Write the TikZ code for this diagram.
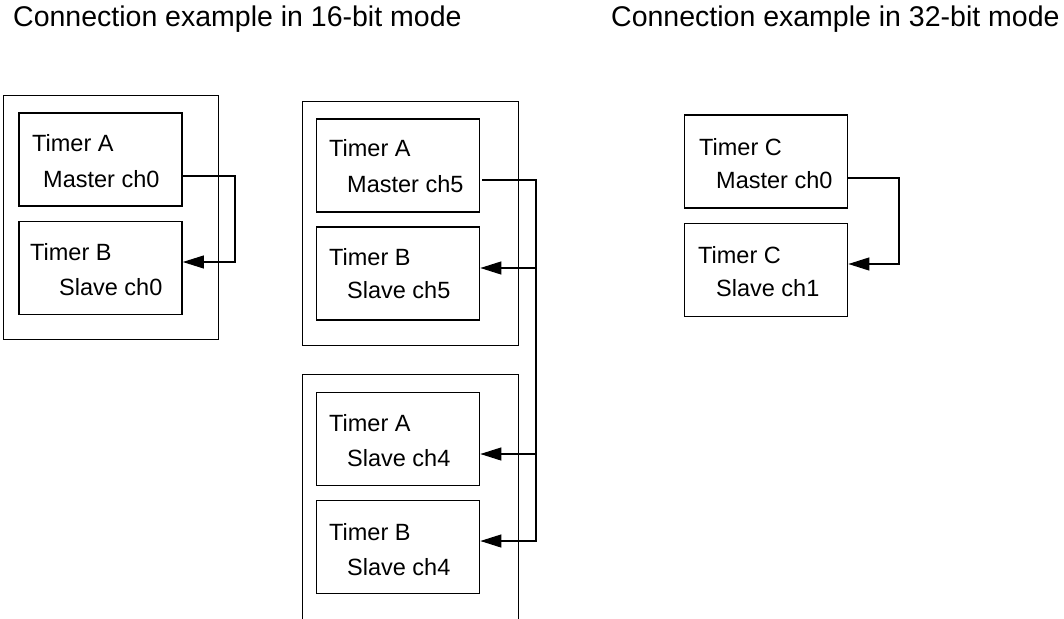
\documentclass[tikz,border=0pt]{standalone}
\usepackage{fontspec}
\setmainfont{Liberation Sans}
\usetikzlibrary{arrows.meta}
\begin{document}
\begin{tikzpicture}[x=1pt,y=-1pt,
  outer/.style={draw, line width=1pt},
  tbox/.style={draw, line width=1.7pt, minimum width=163pt, minimum height=93pt, inner sep=0pt},
  lbl/.style={anchor=base west, inner sep=0pt, font=\fontsize{23.5}{27}\selectfont},
  ttl/.style={anchor=base west, inner sep=0pt, font=\fontsize{28.5}{32}\selectfont},
  wire/.style={line width=1.1pt},
  arr/.style={wire, -{Triangle[length=21pt,width=13pt]}}]
\useasboundingbox (0,0) rectangle (1064,618);
\fill[white] (0,0) rectangle (1064,618);

% titles
\node[ttl] (t16) at (13,27) {Connection example in 16-bit mode};
\node[ttl] (t32) at (611,27) {Connection example in 32-bit mode};

% outer frames
\draw[outer] (3,95) rectangle (218,339);
\draw[outer] (302,101) rectangle (518,345);
\draw[outer] (302,625) -- (302,374) -- (518,374) -- (518,625);

% inner boxes
\node[tbox] (b1a) at (100.5,159.5) {};
\node[tbox] (b1b) at (100.5,268) {};
\node[tbox] (b2a) at (398,165.5) {};
\node[tbox] (b2b) at (398,273.5) {};
\node[tbox] (b3a) at (398,439) {};
\node[tbox] (b3b) at (398,547) {};
\node[tbox] (b4a) at (766,161.5) {};
\node[tbox] (b4b) at (766,270) {};

% labels
\node[lbl] (l1a1) at (32,151) {Timer A};
\node[lbl] (l1a2) at (43,187) {Master ch0};
\node[lbl] (l1b1) at (30,260) {Timer B};
\node[lbl] (l1b2) at (59,295) {Slave ch0};

\node[lbl] (l2a1) at (329,156) {Timer A};
\node[lbl] (l2a2) at (347,192) {Master ch5};
\node[lbl] (l2b1) at (329,265) {Timer B};
\node[lbl] (l2b2) at (347,298) {Slave ch5};

\node[lbl] (l3a1) at (329,431) {Timer A};
\node[lbl] (l3a2) at (347,466) {Slave ch4};
\node[lbl] (l3b1) at (329,540) {Timer B};
\node[lbl] (l3b2) at (347,575) {Slave ch4};

\node[lbl] (l4a1) at (699,155) {Timer C};
\node[lbl] (l4a2) at (716,188) {Master ch0};
\node[lbl] (l4b1) at (698,263) {Timer C};
\node[lbl] (l4b2) at (716,296) {Slave ch1};

% connectors, 16-bit first example
\coordinate (s1) at ([yshift=-16.5pt]b1a.east);
\coordinate (t1) at ([yshift=6pt]b1b.east);
\coordinate (c1) at (235,176);
\draw[arr] (s1) -| (c1) |- (t1);

% connectors, 16-bit second example
\coordinate (s2) at ([xshift=2pt,yshift=-14.5pt]b2a.east);
\coordinate (c2) at (536,180);
\coordinate (t2b) at ([yshift=5.5pt]b2b.east);
\coordinate (t3a) at ([yshift=-15pt]b3a.east);
\coordinate (t3b) at ([yshift=6pt]b3b.east);
\draw[arr] (s2) -| (c2) |- (t3b);
\draw[arr] (c2 |- t2b) -- (t2b);
\draw[arr] (c2 |- t3a) -- (t3a);

% connectors, 32-bit example
\coordinate (s4) at ([yshift=-16.5pt]b4a.east);
\coordinate (t4) at ([yshift=6pt]b4b.east);
\coordinate (c4) at (899,178);
\draw[arr] (s4) -| (c4) |- (t4);
\end{tikzpicture}
\end{document}
